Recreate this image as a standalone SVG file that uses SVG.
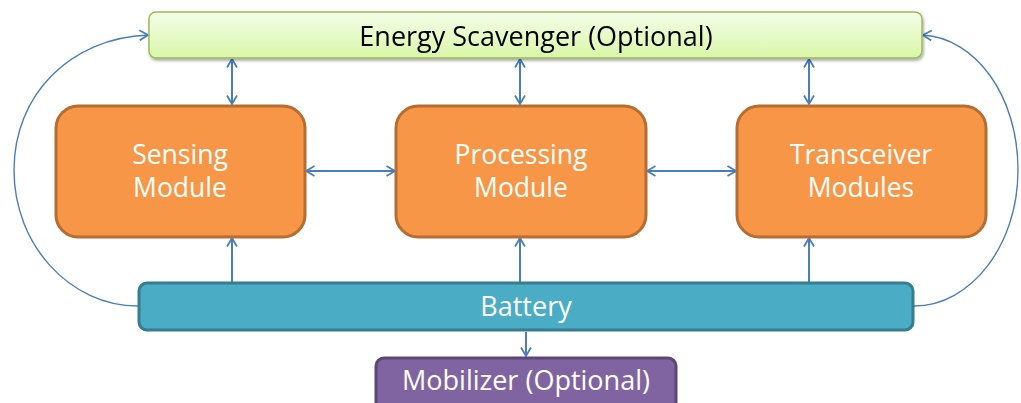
<svg xmlns="http://www.w3.org/2000/svg" width="1021" height="403" viewBox="0 0 1021 403">
  <defs>
    <linearGradient id="greenFill" x1="0" y1="0" x2="0" y2="1">
      <stop offset="0" stop-color="#f4fde9"/>
      <stop offset="1" stop-color="#d9f7a8"/>
    </linearGradient>
    <filter id="shadow" x="-5%" y="-20%" width="110%" height="150%">
      <feGaussianBlur in="SourceAlpha" stdDeviation="1.5"/>
      <feOffset dx="1" dy="2" result="b"/>
      <feComponentTransfer><feFuncA type="linear" slope="0.35"/></feComponentTransfer>
      <feMerge><feMergeNode/><feMergeNode in="SourceGraphic"/></feMerge>
    </filter>
    <marker id="head" viewBox="0 0 10 12" refX="9.5" refY="6" markerWidth="10" markerHeight="12" markerUnits="userSpaceOnUse" orient="auto-start-reverse">
      <path d="M1,1 L9.5,6 L1,11" fill="none" stroke="#4a7ebb" stroke-width="1.8"/>
    </marker>
  </defs>
  <style>
    text { font-family: "Open Sans", "Noto Sans", sans-serif; font-size: 27px; text-anchor: middle; }
    .module rect { fill: #f79646; stroke: #b66d31; stroke-width: 3; }
    .module text { fill: #ffffff; font-size: 26.5px; }
    .link { fill: none; stroke: #4a7ebb; stroke-width: 2; }
    .curve { fill: none; stroke: #4a7ebb; stroke-width: 1.4; }
  </style>

  <!-- connectors -->
  <g id="connectors">
    <!-- scavenger <-> modules -->
    <line class="link" x1="232" y1="59" x2="232" y2="104" marker-start="url(#head)" marker-end="url(#head)"/>
    <line class="link" x1="520" y1="59" x2="520" y2="104" marker-start="url(#head)" marker-end="url(#head)"/>
    <line class="link" x1="809" y1="59" x2="809" y2="104" marker-start="url(#head)" marker-end="url(#head)"/>
    <!-- module <-> module -->
    <line class="link" x1="306" y1="171" x2="395" y2="171" marker-start="url(#head)" marker-end="url(#head)"/>
    <line class="link" x1="647" y1="171" x2="736" y2="171" marker-start="url(#head)" marker-end="url(#head)"/>
    <!-- battery -> modules -->
    <line class="link" x1="232" y1="282" x2="232" y2="238" marker-end="url(#head)"/>
    <line class="link" x1="520" y1="282" x2="520" y2="238" marker-end="url(#head)"/>
    <line class="link" x1="809" y1="282" x2="809" y2="238" marker-end="url(#head)"/>
    <!-- battery -> mobilizer -->
    <line class="link" x1="526" y1="332" x2="526" y2="356" marker-end="url(#head)"/>
    <!-- battery -> scavenger side loops -->
    <path class="curve" d="M138,306 C70,306 14,245 14,170 C14,95 70,38 148,35" marker-end="url(#head)"/>
    <path class="curve" d="M914,306 C971,306 1018,245 1018,170 C1018,95 975,38 923,35" marker-end="url(#head)"/>
  </g>

  <g id="energy-scavenger" filter="url(#shadow)">
    <rect x="149" y="12" width="773" height="46" rx="7" fill="url(#greenFill)" stroke="#9bbb59" stroke-width="1.5"/>
    <text x="536" y="46" fill="#000000">Energy Scavenger (Optional)</text>
  </g>

  <g id="sensing-module" class="module">
    <rect x="56" y="106" width="249" height="131" rx="22"/>
    <text x="180" y="164">Sensing</text>
    <text x="180" y="197">Module</text>
  </g>

  <g id="processing-module" class="module">
    <rect x="396" y="106" width="250" height="131" rx="22"/>
    <text x="521" y="164">Processing</text>
    <text x="521" y="197">Module</text>
  </g>

  <g id="transceiver-modules" class="module">
    <rect x="737" y="106" width="249" height="131" rx="22"/>
    <text x="861" y="164">Transceiver</text>
    <text x="861" y="197">Modules</text>
  </g>

  <g id="battery">
    <rect x="139" y="283" width="774" height="47" rx="8" fill="#4bacc6" stroke="#357d8f" stroke-width="3"/>
    <text x="526" y="316" fill="#ffffff">Battery</text>
  </g>

  <g id="mobilizer">
    <rect x="376" y="358" width="300" height="60" rx="8" fill="#8064a2" stroke="#5c4776" stroke-width="3"/>
    <text x="526" y="390" fill="#ffffff">Mobilizer (Optional)</text>
  </g>
</svg>
